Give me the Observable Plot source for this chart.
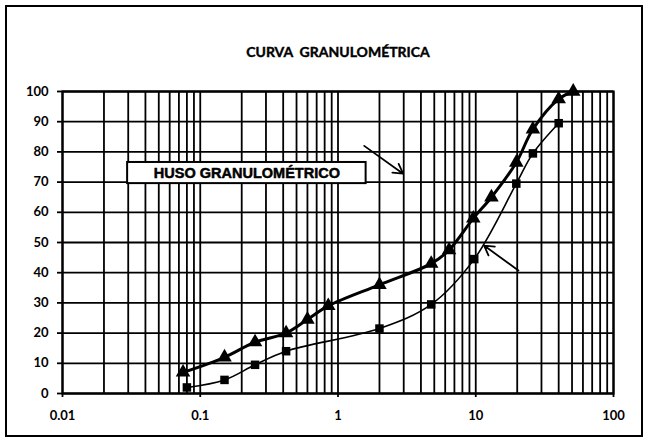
<!DOCTYPE html>
<html>
<head>
<meta charset="utf-8">
<script src="https://cdn.jsdelivr.net/npm/d3@7"></script>
<script src="https://cdn.jsdelivr.net/npm/@observablehq/plot@0.6"></script>
<style>
  html, body { margin: 0; padding: 0; background: #fff; }
  #wrap { position: relative; width: 649px; height: 444px; overflow: hidden; }
  #border { position: absolute; left: 5px; top: 5px; width: 634px; height: 428px; border: 2px solid #000; }
  #title { position: absolute; left: 0; width: 676px; top: 43px; text-align: center;
           font-family: Lato, sans-serif; font-weight: bold; font-size: 14px; color: #000; white-space: pre;
           -webkit-text-stroke: 0.4px #000; }
  #chart { position: absolute; left: 0; top: 0; }
</style>
</head>
<body>
<div id="wrap">
  <div id="border"></div>
  <div id="chart"></div>
  <div id="title">CURVA  GRANULOMÉTRICA</div>
</div>
<script>
// Upper curve (triangles)
const sieveTri = [0.075, 0.15, 0.25, 0.42, 0.6, 0.85, 2, 4.75, 6.4, 9.6, 13, 19.7, 26, 40, 51];
const pctTri   = [7, 12, 17, 20, 24.5, 29, 36, 43, 47.5, 58, 65, 76.5, 87.5, 97.5, 100];
// Lower curve (squares)
const sieveSq = [0.08, 0.15, 0.25, 0.42, 2, 4.75, 9.75, 19.7, 26, 40];
const pctSq   = [2, 4.5, 9.5, 14, 21.5, 29.5, 44.5, 69.5, 79.5, 89.5];
// Axis ticks
const xTicks = [0.01, 0.1, 1, 10, 100];
const yTicks = [0, 10, 20, 30, 40, 50, 60, 70, 80, 90, 100];
// Annotation
const labelText = ["HUSO GRANULOMÉTRICO"];
const labelBoxX = [0.0297, 1.6];
const labelBoxY = [69.5, 76.5];
const labelPos = [0.218, 73];
const arrowFromX = [1.55, 20.4];
const arrowFromY = [82, 40.7];
const arrowToX = [2.97, 11.5];
const arrowToY = [72.8, 49];

const tri = sieveTri.map((x, i) => ({x, y: pctTri[i]}));
const sq = sieveSq.map((x, i) => ({x, y: pctSq[i]}));
const arrows = arrowFromX.map((x, i) => ({x1: x, y1: arrowFromY[i], x2: arrowToX[i], y2: arrowToY[i]}));
const box = [{x1: labelBoxX[0], x2: labelBoxX[1], y1: labelBoxY[0], y2: labelBoxY[1]}];

const chart = Plot.plot({
  width: 649,
  height: 444,
  marginLeft: 62,
  marginRight: 36,
  marginTop: 91,
  marginBottom: 51,
  style: {fontFamily: "Lato, sans-serif", fontWeight: "bold", fontSize: "13px", color: "#000", background: "transparent"},
  x: {type: "log", domain: [0.01, 100]},
  y: {domain: [0, 100]},
  marks: [
    Plot.gridX({stroke: "#000", strokeOpacity: 1, strokeWidth: 1.8}),
    Plot.gridY(yTicks, {stroke: "#000", strokeOpacity: 1, strokeWidth: 1.8}),
    Plot.frame({stroke: "#000", strokeWidth: 2.2}),
    Plot.axisX(xTicks, {tickSize: 4, tickPadding: 13, tickFormat: d => String(d), label: null, strokeWidth: 1.8}),
    Plot.axisY(yTicks, {tickSize: 5, tickPadding: 9, label: null, strokeWidth: 1.8}),
    Plot.line(sq, {x: "x", y: "y", curve: "catmull-rom", stroke: "#000", strokeWidth: 1.6}),
    Plot.line(tri, {x: "x", y: "y", curve: "catmull-rom", stroke: "#000", strokeWidth: 3}),
    Plot.dot(sq, {x: "x", y: "y", symbol: "square", r: 4.8, fill: "#000"}),
    Plot.dot(tri, {x: "x", y: "y", symbol: "triangle", r: 5.4, fill: "#000"}),
    Plot.rect(box, {x1: "x1", x2: "x2", y1: "y1", y2: "y2", fill: "#fff", stroke: "#000", strokeWidth: 2}),
    Plot.text(labelText, {x: labelPos[0], y: labelPos[1], text: d => d, fontFamily: "Liberation Sans, Arial, sans-serif", fontWeight: "bold", fontSize: 14.5, fill: "#000", stroke: "#000", strokeWidth: 0.5}),
    Plot.arrow(arrows, {x1: "x1", y1: "y1", x2: "x2", y2: "y2", stroke: "#000", strokeWidth: 1.8, headLength: 9})
  ]
});
document.getElementById("chart").appendChild(chart);
</script>
</body>
</html>
